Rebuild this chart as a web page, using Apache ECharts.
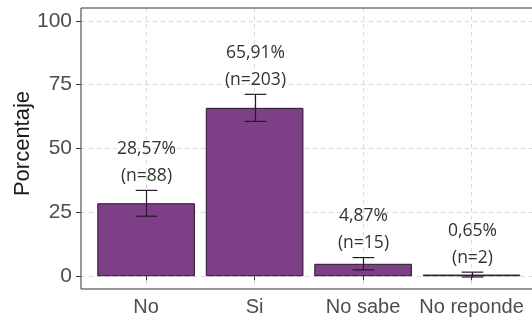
<!DOCTYPE html>
<html>
<head>
<meta charset="utf-8">
<script src="https://cdn.jsdelivr.net/npm/echarts@6/dist/echarts.min.js"></script>
<style>
html,body{margin:0;padding:0;background:#fff;overflow:hidden;width:532px;height:322px;}
#c{width:542px;height:322px;}
</style>
</head>
<body>
<div id="c"></div>
<script>
const categories = ["No", "Si", "No sabe", "No reponde"];
const percentages = [28.57, 65.91, 4.87, 0.65];
const counts = [88, 203, 15, 2];
const lowerCI = [23.5, 60.6, 2.5, -0.3];
const upperCI = [33.6, 71.2, 7.3, 1.6];
const yTicks = [0, 25, 50, 75, 100];
const yTitle = 'Porcentaje';

const chart = echarts.init(document.getElementById('c'), null, {renderer: 'canvas'});

const yMin = -5, yMax = 105;
const gridTop = 8, gridBottom = 33;
const band = 108.5;
const panelLeft = 81;

function fmt(v) { return v.toFixed(2).replace('.', ','); }

const errData = categories.map((c, i) => [i, lowerCI[i], upperCI[i], percentages[i], counts[i]]);

chart.setOption({
  animation: false,
  backgroundColor: '#ffffff',
  grid: [
    {left: panelLeft, top: gridTop, bottom: gridBottom, width: band * 4.2, show: true,
     outerBoundsMode: 'none', containLabel: false,
     borderColor: '#333333', borderWidth: 1, backgroundColor: 'transparent', z: 3},
    {left: panelLeft + band * 0.6, top: gridTop, bottom: gridBottom, width: band * 3,
     outerBoundsMode: 'none', containLabel: false}
  ],
  graphic: [
    {type: 'text', rotation: Math.PI / 2,
     style: {text: yTitle, font: '22px "Liberation Sans"', fill: '#1a1a1a',
             align: 'center', verticalAlign: 'middle'},
     position: [23, 143.5]}
  ],
  xAxis: [
    {type: 'value', gridIndex: 0, min: 0, max: 1, show: false},
    {type: 'category', gridIndex: 1, data: categories, boundaryGap: false,
     axisLine: {show: false},
     axisTick: {show: true, interval: 0, length: 4, lineStyle: {color: '#333333'}},
     axisLabel: {interval: 0, fontFamily: 'Liberation Sans', fontSize: 20, color: '#4d4d4d', margin: 8},
     splitLine: {show: true, interval: 0, lineStyle: {color: '#d9d9d9', type: [4, 4], width: 1}}}
  ],
  yAxis: [
    {type: 'value', gridIndex: 0, min: yMin, max: yMax,
     axisLine: {show: false},
     axisTick: {show: true, length: 5, customValues: yTicks, lineStyle: {color: '#333333'}},
     axisLabel: {customValues: yTicks, fontFamily: 'Liberation Sans', fontSize: 21, color: '#4d4d4d', margin: 9},
     splitLine: {show: true, lineStyle: {color: '#d9d9d9', type: [4, 4], width: 1}}},
    {type: 'value', gridIndex: 1, min: yMin, max: yMax, show: false, splitLine: {show: false}}
  ],
  series: [
    {type: 'bar', xAxisIndex: 1, yAxisIndex: 1, data: percentages, barWidth: band * 0.9,
     itemStyle: {color: '#7d3f86', borderColor: '#2b1530', borderWidth: 1}, z: 2},
    {type: 'custom', xAxisIndex: 1, yAxisIndex: 1, data: errData, z: 4,
     renderItem: function (params, api) {
       const i = api.value(0);
       const lo = api.coord([i, api.value(1)]);
       const hi = api.coord([i, api.value(2)]);
       const half = band * 0.1;
       const style = {stroke: '#2b1530', lineWidth: 1.2};
       const x = Math.round(lo[0]) + 0.5;
       return {type: 'group', children: [
         {type: 'line', shape: {x1: x, y1: lo[1], x2: x, y2: hi[1]}, style: style},
         {type: 'line', shape: {x1: x - half, y1: lo[1], x2: x + half, y2: lo[1]}, style: style},
         {type: 'line', shape: {x1: x - half, y1: hi[1], x2: x + half, y2: hi[1]}, style: style},
         {type: 'text', x: x, y: hi[1] - 1,
          style: {text: fmt(api.value(3)) + '%\n(n=' + api.value(4) + ')',
                  fill: '#333333', font: '17.5px "Open Sans"', lineHeight: 27,
                  align: 'center', verticalAlign: 'bottom'}}
       ]};
     }}
  ]
});
</script>
</body>
</html>
